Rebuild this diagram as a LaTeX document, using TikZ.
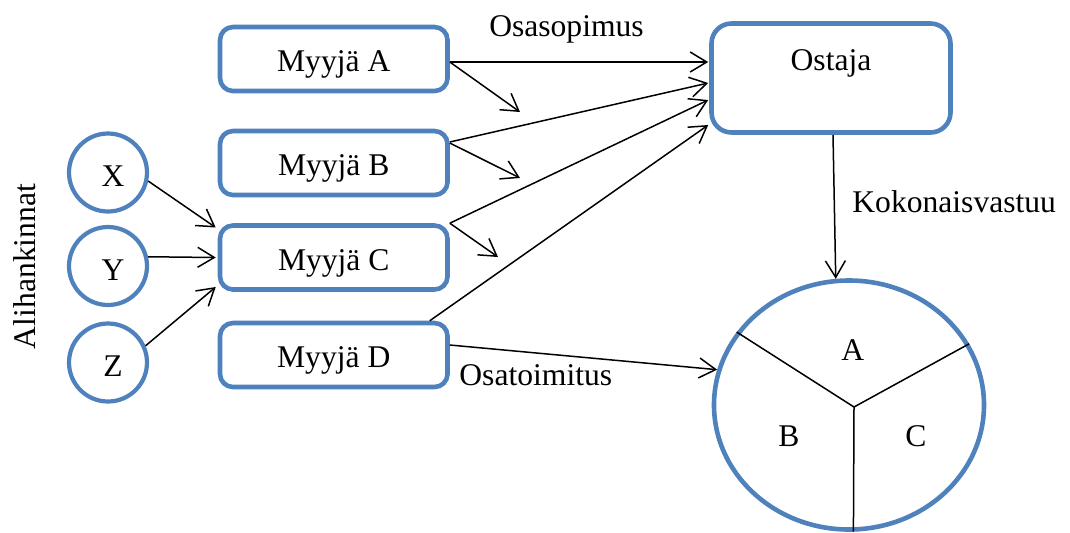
\documentclass[tikz,border=0pt]{standalone}
\usepackage{fontspec}
\setmainfont{Liberation Serif}
\usetikzlibrary{arrows.meta,calc,shapes.geometric}

\definecolor{boxblue}{RGB}{79,129,189}

% letters sit a little right of the circle centre
\newcommand\offletter[1]{\makebox[0pt]{\kern5pt #1}}

\tikzset{
  txt/.style={font=\fontsize{15.8pt}{19pt}\selectfont, inner sep=0pt},
  party/.style={txt, draw=boxblue, line width=2.3pt, rounded corners=6.5pt,
    minimum width=113.75pt, minimum height=32pt,
    text height=14pt, text depth=1.4pt},
  buyer/.style={txt, draw=boxblue, line width=2.3pt, rounded corners=10pt,
    minimum width=119.5pt, minimum height=54.5pt,
    text height=11pt, text depth=19pt},
  sub/.style={txt, circle, draw=boxblue, line width=2.1pt, minimum size=39pt,
    text height=15.5pt, text depth=1.5pt},
  whole/.style={ellipse, draw=boxblue, line width=2.3pt, inner sep=0pt,
    minimum width=135pt, minimum height=124.5pt},
  link/.style={draw=black, line width=0.75pt,
    -{Straight Barb[length=8.3pt,width=10pt,line width=0.75pt]}},
  split/.style={draw=black, line width=0.75pt},
}

\begin{document}
\begin{tikzpicture}[x=0.5pt, y=-0.5pt]
  \useasboundingbox (0,0) rectangle (1070,532);

  % sellers
  \node[party] (A) at (333.75,59)  {Myyjä A};
  \node[party] (B) at (333.75,163) {Myyjä B};
  \node[party] (C) at (333.75,257.5) {Myyjä C};
  \node[party] (D) at (333.75,355) {Myyjä D};

  % buyer
  \node[buyer] (O) at (831,78) {Ostaja};

  % subcontractors
  \node[sub] (X) at (108,172.5) {\offletter{X}};
  \node[sub] (Y) at (108,266)   {\offletter{Y}};
  \node[sub] (Z) at (108,362.5) {\offletter{Z}};

  % the delivered whole, split in three parts
  \node[whole] (W) at (849,405) {};
  \coordinate (hub) at (854,407);
  \draw[split] (hub) -- (W.147);
  \draw[split] (hub) -- (W.27);
  \draw[split] (hub) -- (W.-88);
  \node[txt, anchor=base] (pa) at (852.7,360.7) {A};
  \node[txt, anchor=base] (pb) at (789,446.7) {B};
  \node[txt, anchor=base] (pc) at (916,446.7) {C};

  % free arrow ends
  \coordinate (a1) at (520,112);
  \coordinate (b1) at (520,178);
  \coordinate (c1) at (498,257);

  % contracts with the buyer
  \draw[link] ($(A.east)+(0,3)$) -- ($(O.west)+(-1,-16)$);
  \draw[link] ($(A.east)+(0,3)$) -- (a1);
  \draw[link] ($(B.east)+(0,-21)$) -- ($(O.west)+(-1,5)$);
  \draw[link] ($(B.east)+(0,-20)$) -- (b1);
  \draw[link] (C.north east) -- ($(O.west)+(-1,22)$);
  \draw[link] (C.north east) -- (c1);
  \draw[link] ($(D.north east)+(-20,0)$) -- ($(O.west)+(-1,47)$);

  % partial delivery and overall responsibility
  \draw[link] ($(D.east)+(0,-10)$) -- (W.165.6);
  \draw[link] ($(O.south)+(2,0)$) -- (W.96);

  % subcontracting
  \draw[link] (X.-12) -- ($(C.west)+(-2,-30)$);
  \draw[link] (Y.13)  -- ($(C.west)+(-2,0)$);
  \draw[link] (Z.24)  -- ($(C.west)+(-2,29.5)$);

  % labels
  \node[txt, anchor=base] (osasopimus) at (566.5,36) {Osasopimus};
  \node[txt, anchor=base west] (vastuu) at (852,212) {Kokonaisvastuu};
  \node[txt, anchor=base west] (toimitus) at (459,385) {Osatoimitus};
  \node[txt, anchor=base, rotate=90] (ali) at (35,266.5) {Alihankinnat};
\end{tikzpicture}
\end{document}
